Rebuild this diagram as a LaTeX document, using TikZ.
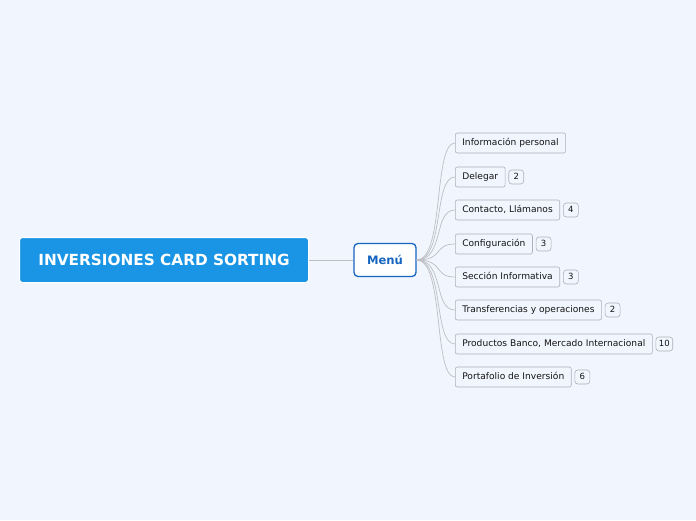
\documentclass[tikz,border=0pt]{standalone}
\usepackage{fontspec}
\setmainfont{DejaVu Sans}
\usetikzlibrary{positioning}
\definecolor{bgcol}{RGB}{241,245,254}
\definecolor{rootcol}{RGB}{26,149,229}
\definecolor{menucol}{RGB}{21,101,192}
\definecolor{linecol}{RGB}{190,190,196}
\definecolor{boxcol}{RGB}{176,176,184}
\definecolor{txtcol}{RGB}{20,20,20}

\begin{document}
\begin{tikzpicture}[x=1pt,y=-1pt,
    rootbox/.style={fill=rootcol,draw=white,line width=1pt,rounded corners=3pt,
      minimum width=289pt,minimum height=45pt,text=white,font=\fontsize{15.3}{17}\selectfont\bfseries},
    menubox/.style={fill=white,draw=menucol,line width=1.3pt,rounded corners=4pt,
      minimum width=62pt,minimum height=33pt,text=menucol,font=\fontsize{11.6}{13}\selectfont\bfseries},
    item/.style={fill=bgcol,draw=boxcol,line width=0.6pt,rounded corners=2pt,anchor=west,
      minimum height=20pt,inner xsep=7pt,text height=7pt,text depth=2pt,text=txtcol,
      font=\fontsize{9.1}{11}\selectfont},
    badge/.style={fill=bgcol,draw=boxcol,line width=0.6pt,rounded corners=3pt,
      minimum height=14pt,minimum width=15pt,inner xsep=3pt,inner ysep=1pt,text=txtcol,
      text height=6pt,text depth=1pt,font=\fontsize{8.5}{10}\selectfont,right=3pt of #1},
    branch/.style={draw=linecol,line width=0.7pt}]
  \fill[bgcol] (0,0) rectangle (696,520);
  \useasboundingbox (0,0) rectangle (696,520);

  \node[rootbox] (root) at (164,260) {INVERSIONES CARD SORTING};
  \node[menubox] (menu) at (385,260) {Menú};
  \draw[branch] (root.east) -- (menu.west);

  % hojas del menu
  \node[item] (c1) at (455,143) {Información personal};
  \node[item] (c2) at (455,177) {Delegar};
  \node[item] (c3) at (455,210) {Contacto, Llámanos};
  \node[item] (c4) at (455,244) {Configuración};
  \node[item] (c5) at (455,277) {Sección Informativa};
  \node[item] (c6) at (455,310) {Transferencias y operaciones};
  \node[item] (c7) at (455,344) {Productos Banco, Mercado Internacional};
  \node[item] (c8) at (455,377) {Portafolio de Inversión};

  \node[badge=c2] (n2) {2};
  \node[badge=c3] (n3) {4};
  \node[badge=c4] (n4) {3};
  \node[badge=c5] (n5) {3};
  \node[badge=c6] (n6) {2};
  \node[badge=c7] (n7) {10};
  \node[badge=c8] (n8) {6};

  \foreach \c in {c1,c2,c3,c4,c5,c6,c7,c8}
    \draw[branch] (menu.east) .. controls +(28,0) and ([xshift=-22pt]\c.west) .. (\c.west);
\end{tikzpicture}
\end{document}
